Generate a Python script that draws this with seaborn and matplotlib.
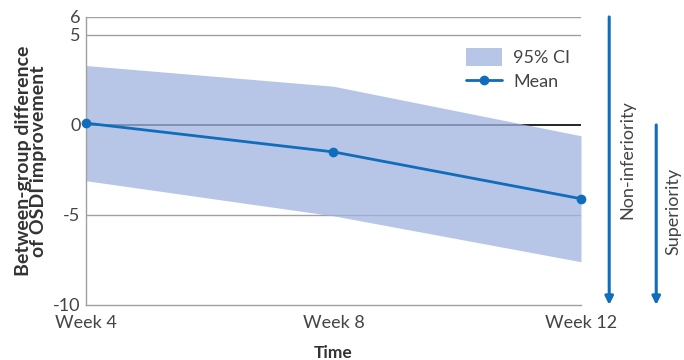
import matplotlib
matplotlib.use('Agg')
import matplotlib.pyplot as plt
import matplotlib.transforms as mtransforms
import seaborn as sns
import pandas as pd

# 데이터
weeks = ['Week 4', 'Week 8', 'Week 12']
mean_diff = [0.1, -1.5, -4.1]
ci_upper = [3.3, 2.15, -0.6]
ci_lower = [-3.1, -5.05, -7.6]

df = pd.DataFrame({'time': [0, 1, 2], 'mean': mean_diff,
                   'upper': ci_upper, 'lower': ci_lower})

sns.set_style('white')
plt.rcParams['font.family'] = ['Lato', 'DejaVu Sans']

blue = '#0f6dbb'
fill = '#9fb4df'
grey = '#a0a0a0'

fig = plt.figure(figsize=(6.84, 3.6), dpi=100)
ax = fig.add_axes([0.1257, 0.153, 0.7237, 0.8])

for yv in [6, 5, -5]:
    ax.axhline(yv, color=grey, lw=1, zorder=0)
ax.axhline(0, color='black', lw=1.2, zorder=0.5)
ax.fill_between(df['time'], df['lower'], df['upper'], color=fill, alpha=0.75,
                lw=0, label='95% CI', zorder=1)
sns.lineplot(data=df, x='time', y='mean', color=blue, lw=2, marker='o',
             markersize=7, markeredgewidth=0, label='Mean', ax=ax,
             zorder=3, clip_on=False)

ax.set_xlim(0, 2)
ax.set_ylim(-10, 6)
ax.set_yticks([6, 5, 0, -5, -10])
ax.set_yticklabels(['6', '5', '0', '-5', '-10'])
ax.set_xticks([0, 1, 2])
ax.set_xticklabels(weeks)
ax.tick_params(axis='y', length=0, pad=4, labelsize=13, labelcolor='#444444')
ax.tick_params(axis='x', direction='in', length=6, width=1, color=grey,
               pad=7, labelsize=13, labelcolor='#444444')

for s in ['top', 'right']:
    ax.spines[s].set_visible(False)
for s in ['left', 'bottom']:
    ax.spines[s].set_color(grey)
    ax.spines[s].set_linewidth(1)

ax.set_xlabel('Time', fontsize=12.5, fontweight='bold', color='#333333', labelpad=10)
ax.set_ylabel('Between-group difference\nof OSDI improvement', fontsize=14,
              fontweight='bold', color='#333333', labelpad=4, linespacing=0.9)

# 화살표 (비열등성 / 우월성)
trans = mtransforms.blended_transform_factory(ax.transAxes, ax.transData)
ax.annotate('', xy=(1.057, -10), xytext=(1.057, 6), xycoords=trans,
            textcoords=trans,
            arrowprops=dict(arrowstyle='-|>', color=blue, lw=2.2,
                            mutation_scale=12, shrinkA=0, shrinkB=0))
ax.annotate('', xy=(1.152, -10), xytext=(1.152, 0), xycoords=trans,
            textcoords=trans,
            arrowprops=dict(arrowstyle='-|>', color=blue, lw=2.2,
                            mutation_scale=12, shrinkA=0, shrinkB=0))
ax.text(1.093, -1.95, 'Non-inferiority', transform=trans, rotation=90,
        ha='center', va='center', fontsize=13, color='#444444')
ax.text(1.187, -4.8, 'Superiority', transform=trans, rotation=90,
        ha='center', va='center', fontsize=13, color='#444444')

leg = ax.legend(loc='upper right', bbox_to_anchor=(1.0, 0.93), frameon=False,
                fontsize=13, handlelength=2.0, handleheight=1.2,
                labelcolor='#444444', borderaxespad=0.2, handletextpad=0.6,
                labelspacing=0.3)

fig.savefig('out.png', dpi=100)
